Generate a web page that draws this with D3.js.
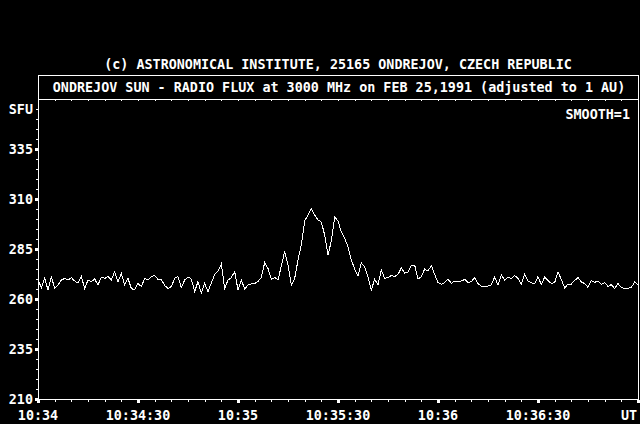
<!DOCTYPE html>
<html>
<head>
<meta charset="utf-8">
<script src="https://cdn.jsdelivr.net/npm/d3@7"></script>
<style>
	body { margin: 0; background: #000; }
	text { font-family: "DejaVu Sans Mono", monospace; font-weight: bold; fill: #fff; }
</style>
</head>
<body>
<div id="draw"></div>
<script>
// one sample per second from 10:34:00 UT
var flux = [
	270, 265.5, 270.5, 264.5, 271, 265.5, 267, 269.5, 270.3, 269.5,
	270.7, 269, 268, 271.2, 265.3, 269.5, 268.7, 270, 267, 271,
	270.3, 271.2, 269.5, 273.7, 268.7, 272.8, 267, 270.3, 265.3, 264.5,
	267.8, 266.2, 270.3, 269.5, 271.2, 271.7, 269.8, 269.8, 266.7, 265.3,
	266.2, 270.3, 271.2, 265.7, 269.5, 271, 270, 263.7, 268.7, 262.8,
	267.8, 263.7, 268, 272.3, 274, 277.5, 265.3, 269.5, 270.7, 273.7,
	264.5, 269.5, 265, 267, 267.5, 267.8, 268.7, 270.8, 278.2, 275.3,
	269.8, 270.8, 269.5, 276.5, 283.7, 277, 267, 270.3, 279.5, 287,
	299, 302, 305, 302, 299.5, 298.5, 292, 282, 289, 301,
	299, 293.5, 290.5, 286, 279.5, 275, 271.5, 278, 276, 271,
	264.5, 270, 267, 274.5, 270.3, 270.7, 271.7, 271.2, 272.3, 275.5,
	273, 273.3, 276.7, 277, 270, 271.2, 275, 274, 276.7, 272.3,
	268.3, 267.3, 268.3, 270, 267.8, 269, 268.7, 269, 269.8, 268.3,
	268.7, 270.7, 267.8, 266.3, 266.2, 266.5, 267, 271, 267, 272,
	269.5, 270.8, 270.2, 271.8, 270.2, 267.5, 272.5, 269, 268.2, 267.5,
	271.2, 267.2, 271, 269.2, 267.8, 268.2, 273.5, 269.8, 265.5, 267.5,
	267.5, 269.2, 270.8, 268.5, 267.7, 265.8, 269.2, 268.3, 269, 267.2,
	268.2, 266.3, 267.2, 265.2, 267.7, 265.7, 265.2, 265.3, 265.8, 268.5,
	267
];
var yTicks = [210, 235, 260, 285, 310, 335];
var xTickSec = [0, 30, 60, 90, 120, 150];
var xTickLabels = ["10:34", "10:34:30", "10:35", "10:35:30", "10:36", "10:36:30"];
var copyright = "(c) ASTRONOMICAL INSTITUTE, 25165 ONDREJOV, CZECH REPUBLIC";
var title = "ONDREJOV SUN - RADIO FLUX at 3000 MHz on FEB 25,1991 (adjusted to 1 AU)";

var width = 640, height = 424;

var x = d3.scaleLinear().domain([0, 180]).range([38, 638]);
var y = d3.scaleLinear().domain([210, 360]).range([399, 99]);

var svg = d3.select("#draw").append("svg")
	.attr("width", width)
	.attr("height", height)
	.style("display", "block")
	.style("background", "#000");

// header
svg.append("text")
	.attr("x", 338)
	.attr("y", 69)
	.attr("text-anchor", "middle")
	.style("font-size", "13.4px")
	.text(copyright);

var frame = svg.append("g")
	.attr("transform", "translate(0.5,0.5)")
	.attr("stroke", "#fff")
	.attr("fill", "none")
	.attr("shape-rendering", "crispEdges");

frame.append("rect")
	.attr("x", x(0))
	.attr("y", 75)
	.attr("width", x(180) - x(0))
	.attr("height", y(360) - 75);

svg.append("text")
	.attr("x", 339)
	.attr("y", 92)
	.attr("text-anchor", "middle")
	.style("font-size", "13.4px")
	.text(title);

// plot frame
frame.append("line")
	.attr("x1", x(0)).attr("x2", x(0))
	.attr("y1", y(360)).attr("y2", y(210));
frame.append("line")
	.attr("x1", x(0)).attr("x2", x(180))
	.attr("y1", y(210)).attr("y2", y(210));
frame.append("line")
	.attr("x1", x(180)).attr("x2", x(180))
	.attr("y1", y(360)).attr("y2", y(210) + 3);

// minor ticks
function styleAxis(g) {
	g.select(".domain").remove();
	g.selectAll("line").attr("stroke", "#fff").attr("shape-rendering", "crispEdges");
}

svg.append("g")
	.attr("transform", "translate(0," + y(210) + ")")
	.call(d3.axisBottom(x).tickValues(d3.range(0, 181, 5)).tickSize(3).tickFormat(""))
	.call(styleAxis);

svg.append("g")
	.attr("transform", "translate(0," + y(360) + ")")
	.call(d3.axisBottom(x).tickValues(d3.range(5, 180, 5)).tickSize(2).tickFormat(""))
	.call(styleAxis);

svg.append("g")
	.attr("transform", "translate(" + x(0) + ",0)")
	.call(d3.axisLeft(y).tickValues(d3.range(215, 360, 5)).tickSize(2).tickFormat(""))
	.call(styleAxis);

// major tick marks
svg.selectAll("xMajor")
	.data(xTickSec.concat([180]))
	.enter()
	.append("rect")
	.attr("x", function(d){ return Math.round(x(d)) - 1; })
	.attr("y", y(210) + 1)
	.attr("width", 3)
	.attr("height", 3)
	.attr("fill", "#fff");

svg.selectAll("yMajor")
	.data(yTicks)
	.enter()
	.append("rect")
	.attr("x", x(0) - 3)
	.attr("y", function(d){ return Math.round(y(d)) - 1; })
	.attr("width", 3)
	.attr("height", 3)
	.attr("fill", "#fff");

// labels
svg.selectAll("xLabels")
	.data(xTickSec)
	.enter()
	.append("text")
	.attr("x", function(d){ return x(d); })
	.attr("y", 420)
	.attr("text-anchor", "middle")
	.style("font-size", "13.4px")
	.text(function(d, i){ return xTickLabels[i]; });

svg.append("text")
	.attr("x", x(180) - 1)
	.attr("y", 420)
	.attr("text-anchor", "end")
	.style("font-size", "13.4px")
	.text("UT");

svg.selectAll("yLabels")
	.data(yTicks)
	.enter()
	.append("text")
	.attr("x", 33)
	.attr("y", function(d){ return y(d) + 5; })
	.attr("text-anchor", "end")
	.style("font-size", "13.4px")
	.text(function(d){ return d; });

svg.append("text")
	.attr("x", 33)
	.attr("y", y(355) + 5)
	.attr("text-anchor", "end")
	.style("font-size", "13.4px")
	.text("SFU");

svg.append("text")
	.attr("x", 630)
	.attr("y", 119)
	.attr("text-anchor", "end")
	.style("font-size", "13.4px")
	.text("SMOOTH=1");

// flux curve
var line = d3.line()
	.x(function(d, i){ return x(i); })
	.y(function(d){ return y(d); });

svg.append("path")
	.datum(flux)
	.attr("d", line)
	.attr("fill", "none")
	.attr("stroke", "#fff")
	.attr("stroke-width", 1)
	.attr("shape-rendering", "crispEdges");
</script>
</body>
</html>
